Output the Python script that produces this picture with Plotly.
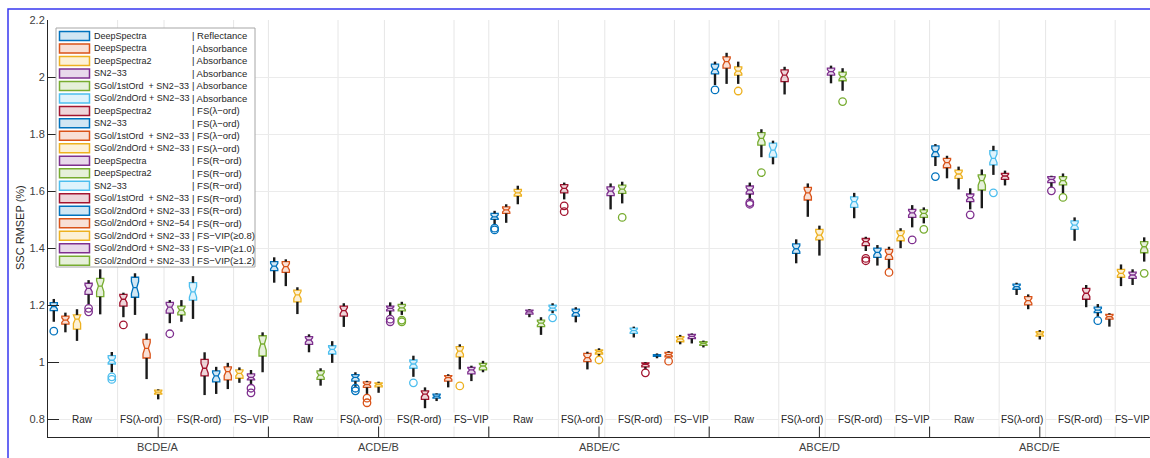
import plotly.graph_objects as go

# ---------------- data ----------------
fold_labels = ["BCDE/A", "ACDE/B", "ABDE/C", "ABCE/D", "ABCD/E"]
group_labels = ["Raw", "FS(λ-ord)", "FS(R-ord)", "FS−VIP"]
group_sizes = [6, 4, 6, 3]

series_names = ["DeepSpectra", "DeepSpectra", "DeepSpectra2", "SN2−33",
                "SGol/1stOrd  + SN2−33", "SGol/2ndOrd + SN2−33",
                "DeepSpectra2", "SN2−33", "SGol/1stOrd  + SN2−33", "SGol/2ndOrd + SN2−33",
                "DeepSpectra", "DeepSpectra2", "SN2−33", "SGol/1stOrd  + SN2−33",
                "SGol/2ndOrd + SN2−33", "SGol/2ndOrd + SN2−54",
                "SGol/2ndOrd + SN2−33", "SGol/2ndOrd + SN2−33", "SGol/2ndOrd + SN2−33"]
series_types = ["| Reflectance", "| Absorbance", "| Absorbance", "| Absorbance",
                "| Absorbance", "| Absorbance",
                "| FS(λ−ord)", "| FS(λ−ord)", "| FS(λ−ord)", "| FS(λ−ord)",
                "| FS(R−ord)", "| FS(R−ord)", "| FS(R−ord)", "| FS(R−ord)",
                "| FS(R−ord)", "| FS(R−ord)",
                "| FS−VIP(≥0.8)", "| FS−VIP(≥1.0)", "| FS−VIP(≥1.2)"]

# per box, in plotting order (fold by fold, 19 boxes each)
lo_vals = [1.142, 1.105, 1.075, 1.204, 1.168, 0.965, 1.158, 1.166, 0.941, 0.870, 1.137, 1.142, 1.152, 0.885, 0.889, 0.906, 0.928, 0.922, 0.965,
           1.279, 1.267, 1.169, 1.035, 0.918, 0.998, 1.124, 0.914, 0.889, 0.893, 1.162, 1.166, 0.949, 0.839, 0.864, 0.912, 0.975, 0.934, 0.965,
           1.481, 1.489, 1.554, 1.158, 1.096, 1.172, 1.571, 1.140, 0.975, 1.019, 1.536, 1.557, 1.087, 0.975, 1.014, 1.014, 1.063, 1.066, 1.052,
           1.972, 1.976, 1.976, 1.569, 1.719, 1.694, 1.939, 1.347, 1.510, 1.374, 1.978, 1.952, 1.505, 1.390, 1.339, 1.329, 1.400, 1.473, 1.487,
           1.688, 1.645, 1.606, 1.536, 1.540, 1.657, 1.620, 1.236, 1.186, 1.080, 1.613, 1.592, 1.426, 1.193, 1.160, 1.125, 1.267, 1.271, 1.353]
q1_vals = [1.181, 1.134, 1.116, 1.238, 1.230, 0.994, 1.197, 1.228, 1.015, 0.888, 1.172, 1.166, 1.218, 0.952, 0.931, 0.938, 0.944, 0.938, 1.022,
           1.321, 1.315, 1.212, 1.063, 0.940, 1.029, 1.162, 0.934, 0.912, 0.914, 1.180, 1.180, 0.979, 0.870, 0.874, 0.934, 1.019, 0.959, 0.973,
           1.501, 1.522, 1.583, 1.169, 1.125, 1.181, 1.594, 1.162, 1.002, 1.029, 1.584, 1.592, 1.101, 0.984, 1.021, 1.019, 1.072, 1.083, 1.059,
           2.011, 2.031, 2.007, 1.590, 1.761, 1.719, 1.984, 1.382, 1.569, 1.429, 2.007, 1.987, 1.543, 1.409, 1.368, 1.361, 1.426, 1.508, 1.508,
           1.721, 1.682, 1.645, 1.563, 1.604, 1.692, 1.641, 1.256, 1.201, 1.092, 1.630, 1.622, 1.466, 1.221, 1.174, 1.151, 1.298, 1.294, 1.384]
med_vals = [1.195, 1.148, 1.151, 1.259, 1.267, 1.007, 1.221, 1.262, 1.049, 0.895, 1.193, 1.183, 1.247, 0.979, 0.952, 0.967, 0.961, 0.947, 1.064,
            1.337, 1.335, 1.236, 1.078, 0.955, 1.045, 1.181, 0.947, 0.922, 0.922, 1.189, 1.191, 0.994, 0.888, 0.881, 0.946, 1.039, 0.973, 0.987,
            1.510, 1.534, 1.594, 1.177, 1.137, 1.190, 1.610, 1.174, 1.016, 1.037, 1.600, 1.607, 1.111, 0.993, 1.024, 1.027, 1.082, 1.091, 1.066,
            2.027, 2.054, 2.021, 1.604, 1.785, 1.744, 2.007, 1.398, 1.594, 1.446, 2.019, 2.001, 1.563, 1.423, 1.385, 1.378, 1.444, 1.524, 1.522,
            1.738, 1.700, 1.660, 1.577, 1.637, 1.715, 1.653, 1.265, 1.216, 1.099, 1.641, 1.637, 1.481, 1.242, 1.183, 1.160, 1.312, 1.306, 1.405]
q3_vals = [1.209, 1.162, 1.166, 1.277, 1.294, 1.023, 1.238, 1.298, 1.080, 0.902, 1.210, 1.197, 1.279, 1.010, 0.970, 0.984, 0.973, 0.959, 1.093,
           1.353, 1.353, 1.253, 1.090, 0.970, 1.058, 1.197, 0.957, 0.931, 0.928, 1.197, 1.203, 1.008, 0.900, 0.888, 0.953, 1.055, 0.982, 0.996,
           1.522, 1.545, 1.606, 1.183, 1.148, 1.200, 1.623, 1.186, 1.031, 1.043, 1.615, 1.621, 1.120, 0.998, 1.027, 1.035, 1.090, 1.098, 1.072,
           2.045, 2.071, 2.036, 1.618, 1.805, 1.768, 2.025, 1.415, 1.613, 1.466, 2.031, 2.017, 1.580, 1.434, 1.400, 1.396, 1.461, 1.536, 1.534,
           1.759, 1.715, 1.674, 1.590, 1.657, 1.742, 1.662, 1.274, 1.230, 1.107, 1.651, 1.651, 1.496, 1.259, 1.193, 1.168, 1.326, 1.316, 1.423]
hi_vals = [1.222, 1.174, 1.186, 1.288, 1.326, 1.036, 1.244, 1.312, 1.101, 0.905, 1.218, 1.218, 1.302, 1.035, 0.984, 0.998, 0.982, 0.973, 1.105,
           1.368, 1.361, 1.263, 1.098, 0.979, 1.074, 1.207, 0.965, 0.935, 0.932, 1.210, 1.212, 1.023, 0.912, 0.891, 0.958, 1.063, 0.988, 1.005,
           1.531, 1.554, 1.619, 1.186, 1.158, 1.207, 1.630, 1.193, 1.037, 1.049, 1.627, 1.633, 1.125, 1.001, 1.031, 1.039, 1.096, 1.101, 1.076,
           2.054, 2.085, 2.054, 1.630, 1.817, 1.777, 2.036, 1.431, 1.627, 1.479, 2.040, 2.031, 1.594, 1.440, 1.411, 1.405, 1.470, 1.551, 1.543,
           1.765, 1.724, 1.686, 1.610, 1.676, 1.759, 1.672, 1.279, 1.238, 1.113, 1.654, 1.662, 1.508, 1.271, 1.204, 1.172, 1.343, 1.326, 1.438]

# outliers: box position (1..95) and value
out_pos = [1, 4, 4, 6, 6, 7, 11, 18, 18,
           27, 27, 28, 28, 30, 30, 31, 31, 32, 36,
           39, 39, 44, 45, 45, 48, 50, 52, 54,
           58, 60, 61, 61, 62, 69, 71, 71, 73, 75, 76,
           77, 80, 82, 87, 88, 91, 95]
out_vals = [1.109, 1.189, 1.177, 0.949, 0.940, 1.131, 1.100, 0.909, 0.893,
            0.909, 0.900, 0.874, 0.858, 1.151, 1.142, 1.148, 1.142, 0.928, 0.917,
            1.470, 1.464, 1.156, 1.548, 1.528, 1.008, 1.508, 0.963, 1.004,
            1.955, 1.951, 1.560, 1.554, 1.665, 1.914, 1.364, 1.356, 1.315, 1.429, 1.466,
            1.651, 1.517, 1.594, 1.601, 1.578, 1.146, 1.312]

# ---------------- style ----------------
palette = ["#0072BD", "#D95319", "#EDB120", "#7E2F8E", "#77AC30", "#4DBEEE", "#A2142F"]
fills = ["rgba(0,114,189,0.18)", "rgba(217,83,25,0.18)", "rgba(237,177,32,0.18)",
         "rgba(126,47,142,0.18)", "rgba(119,172,48,0.18)", "rgba(77,190,238,0.18)",
         "rgba(162,20,47,0.18)"]
FONT = "Liberation Sans, Arial, sans-serif"
TXT = "#262626"
NS = len(series_names)
NF = len(fold_labels)

W, H = 1150, 458
L, T, B = 48, 20, 21
PW, PH = W - L, H - T - B


def px2paper_x(px):
    return (px - L) / PW


def py2paper_y(py):
    return (H - B - py) / PH


fig = go.Figure()

# whiskers (black)
wx, wy = [], []
for i in range(NS * NF):
    p = i + 1
    wx += [p, p, None, p, p, None]
    wy += [lo_vals[i], q1_vals[i], None, q3_vals[i], hi_vals[i], None]
fig.add_trace(go.Scatter(x=wx, y=wy, mode="lines", line=dict(color="#1a1a1a", width=2.4),
                         hoverinfo="skip", showlegend=False))

# boxes
for s in range(NS):
    idx = [f * NS + s for f in range(NF)]
    pos = [i + 1 for i in idx]
    q1 = [q1_vals[i] for i in idx]
    q3 = [q3_vals[i] for i in idx]
    md = [med_vals[i] for i in idx]
    ns = [0.3 * (q3[k] - q1[k]) for k in range(NF)]
    c = palette[s % 7]
    fig.add_trace(go.Box(x=pos, q1=q1, median=md, q3=q3, lowerfence=q1, upperfence=q3,
                         notched=True, notchspan=ns, notchwidth=0.25, orientation="v",
                         width=0.62, line=dict(color=c, width=1.3), fillcolor=fills[s % 7],
                         boxpoints=False, showlegend=False, hoverinfo="skip"))

# outliers
for s in range(NS):
    xs = [p for p in out_pos if (p - 1) % NS == s]
    ys = [v for p, v in zip(out_pos, out_vals) if (p - 1) % NS == s]
    if xs:
        fig.add_trace(go.Scatter(x=xs, y=ys, mode="markers",
                                 marker=dict(symbol="circle-open", size=7.5,
                                             color=palette[s % 7], line=dict(width=1.3)),
                                 hoverinfo="skip", showlegend=False))

shapes = []
annotations = []

# vertical grid lines at group / fold boundaries, ticks at the bottom
for f in range(NF):
    start = f * NS
    acc = 0
    for g, n in enumerate(group_sizes):
        centre = start + acc + (n + 1) / 2
        annotations.append(dict(x=centre, y=0.8, xref="x", yref="y", text=group_labels[g],
                                showarrow=False, font=dict(family=FONT, size=10, color=TXT),
                                yanchor="middle", xanchor="center", bgcolor="white"))
        acc += n
        b = start + acc + 0.5
        if b < NS * NF:
            shapes.append(dict(type="line", xref="x", yref="paper", x0=b, x1=b, y0=0, y1=1,
                               line=dict(color="#e6e6e6", width=1), layer="below"))
    fc = start + (NS + 1) / 2
    annotations.append(dict(x=fc, y=py2paper_y(447), xref="x", yref="paper", text=fold_labels[f],
                            showarrow=False, font=dict(family=FONT, size=11, color="#404040"),
                            yanchor="middle", xanchor="center"))
    for tx in [fc, start + NS + 0.5]:
        if tx < NS * NF:
            shapes.append(dict(type="line", xref="x", yref="paper", x0=tx, x1=tx,
                               y0=0, y1=11 / PH, line=dict(color=TXT, width=1)))

# y-axis title
annotations.append(dict(x=px2paper_x(20), y=py2paper_y(228), xref="paper", yref="paper",
                        text="SSC RMSEP (%)", textangle=-90, showarrow=False,
                        xanchor="center", yanchor="middle",
                        font=dict(family=FONT, size=11, color=TXT)))

# manual legend
lx0, lx1, ly0, ly1 = 56, 255, 28, 267
shapes.append(dict(type="rect", xref="paper", yref="paper",
                   x0=px2paper_x(lx0), x1=px2paper_x(lx1), y0=py2paper_y(ly1), y1=py2paper_y(ly0),
                   line=dict(color="#a6a6a6", width=1), fillcolor="white"))
for s in range(NS):
    cy = 36 + s * 12.48
    c = palette[s % 7]
    shapes.append(dict(type="rect", xref="paper", yref="paper",
                       x0=px2paper_x(59.5), x1=px2paper_x(89.5),
                       y0=py2paper_y(cy + 4.5), y1=py2paper_y(cy - 4.5),
                       line=dict(color=c, width=1.5), fillcolor=fills[s % 7]))
    annotations.append(dict(x=px2paper_x(92.0), y=py2paper_y(cy), xref="paper", yref="paper",
                            text=series_names[s], showarrow=False, xanchor="left", yanchor="middle",
                            font=dict(family=FONT, size=9, color=TXT)))
    annotations.append(dict(x=px2paper_x(189.5), y=py2paper_y(cy), xref="paper", yref="paper",
                            text=series_types[s], showarrow=False, xanchor="left", yanchor="middle",
                            font=dict(family=FONT, size=9.5, color=TXT)))

# blue frame (left and top visible)
shapes.append(dict(type="rect", xref="paper", yref="paper",
                   x0=px2paper_x(8), x1=px2paper_x(1175), y0=py2paper_y(480), y1=py2paper_y(9),
                   line=dict(color="#3737f0", width=1.5), fillcolor="rgba(0,0,0,0)"))

fig.update_layout(
    width=W, height=H,
    margin=dict(l=L, r=0, t=T, b=B),
    paper_bgcolor="white", plot_bgcolor="white",
    font=dict(family=FONT, size=11, color=TXT),
    showlegend=False,
    boxmode="overlay",
    hovermode=False,
    shapes=shapes,
    annotations=annotations,
    xaxis=dict(range=[0.5, NS * NF + 0.5], showticklabels=False, showgrid=False, zeroline=False,
               showline=True, linecolor=TXT, linewidth=1, ticks=""),
    yaxis=dict(range=[0.738, 2.2], tickvals=[0.8, 1.0, 1.2, 1.4, 1.6, 1.8, 2.0, 2.2],
               ticktext=["0.8", "1", "1.2", "1.4", "1.6", "1.8", "2", "2.2"],
               ticks="inside", ticklen=11, tickcolor=TXT, showline=True, linecolor=TXT, linewidth=1,
               showgrid=True, gridcolor="#ebebeb", zeroline=False,
               tickfont=dict(family=FONT, size=11, color="#404040")),
)

fig.write_html("out.html", config={"displayModeBar": False},
               post_script="document.body.style.margin='0';document.body.style.overflow='hidden';")
